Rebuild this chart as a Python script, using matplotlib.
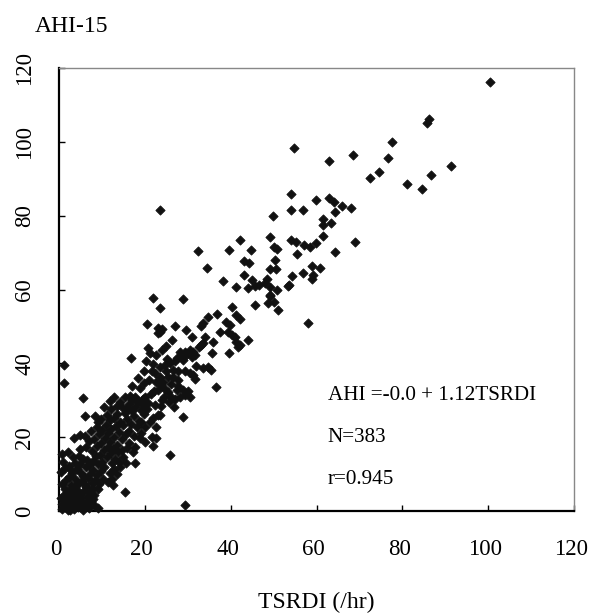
import matplotlib
matplotlib.use("Agg")
import matplotlib.pyplot as plt
import matplotlib.transforms as mtransforms

plt.rcParams['font.family'] = ['Liberation Serif', 'DejaVu Serif']

upper_x = [100.5, 86.3, 85.8, 77.6, 54.7, 76.7, 68.5, 62.9, 91.4, 74.5, 72.4, 86.7, 81.0, 84.5,
           54.0, 59.9, 62.9, 64.0, 66.0, 68.1, 64.2, 54.0, 56.8, 61.5, 61.5, 63.3, 61.6, 54.0,
           55.3, 57.2, 58.6, 59.9, 69.0, 23.6, 49.9, 49.1, 42.1, 32.3, 39.6, 44.8, 50.1, 50.9,
           55.4, 43.1, 44.3, 50.4, 34.4, 49.1, 50.5, 43.1, 54.3, 38.3, 44.9, 48.5, 41.3, 44.0,
           45.6, 46.7, 48.1, 49.2, 50.8, 53.4, 49.1, 21.9, 28.8, 64.2, 59.0, 60.7, 56.8, 59.3,
           59.0, 53.7, 58.1]
upper_y = [116.2, 106.2, 105.2, 100.0, 98.3, 95.6, 96.5, 94.8, 93.5, 91.7, 90.3, 90.9, 88.6, 87.3,
           86.0, 84.3, 84.8, 83.8, 82.6, 82.0, 81.1, 81.6, 81.6, 79.0, 77.5, 78.0, 74.6, 73.3,
           73.0, 72.1, 71.6, 72.7, 72.8, 81.6, 79.9, 74.2, 73.4, 70.3, 70.7, 70.7, 71.6, 71.0,
           69.7, 67.8, 67.1, 68.0, 65.9, 65.5, 65.5, 64.0, 63.7, 62.3, 62.6, 62.8, 60.6, 60.4,
           61.0, 61.2, 61.7, 60.6, 59.9, 61.0, 58.3, 57.7, 57.4, 70.2, 66.4, 65.9, 64.6, 64.0,
           62.8, 61.2, 51.0]

# middle band
mid_x = [23.5, 40.4, 45.6, 48.7, 50.2, 49.1, 51.0, 36.7, 34.7, 33.6, 33.2, 39.0, 39.8, 41.3,
         42.1, 27.0, 24.1, 23.5, 34.0, 33.6, 33.2, 39.4, 40.2, 40.9, 41.3, 42.1, 41.7, 44.0,
         35.7, 39.6, 23.9, 28.1, 29.3, 30.5, 31.3, 29.7, 28.5, 27.4, 27.0, 25.8, 24.7, 28.9,
         30.9, 31.6, 33.6, 34.7, 35.5, 23.5, 25.0, 26.6, 27.7, 29.3, 30.5, 31.3, 31.6, 25.4,
         26.6, 27.7, 24.3, 23.5, 36.5, 27.4, 28.9, 30.1, 26.2, 27.0, 28.1, 29.3, 30.5, 23.5,
         28.8]
mid_y = [54.9, 55.2, 55.8, 56.3, 56.7, 58.5, 54.5, 53.3, 52.5, 50.9, 50.1, 51.1, 50.4, 53.1,
         52.0, 50.2, 49.2, 48.6, 47.2, 45.4, 45.0, 48.6, 47.7, 47.2, 45.9, 45.0, 44.4, 46.2,
         42.7, 42.7, 43.6, 43.2, 43.2, 43.6, 43.2, 42.3, 41.8, 41.4, 40.5, 40.2, 39.6, 40.9,
         41.8, 42.3, 38.7, 39.1, 38.2, 39.1, 37.8, 38.2, 37.8, 37.8, 37.3, 36.9, 35.7, 36.4,
         36.2, 35.5, 35.0, 34.6, 33.5, 32.8, 32.8, 32.6, 31.0, 30.3, 30.8, 31.4, 30.8, 26.0,
         25.4]

# lower left, read where separable
low_x = [20.6, 23.1, 23.0, 20.8, 21.2, 22.7, 16.7, 1.2, 1.2, 19.8, 21.6, 22.3, 23.5, 15.3,
         16.5, 17.7, 18.1, 16.9, 12.9, 5.7, 20.0, 23.9, 23.1, 23.7, 6.0, 8.4, 9.1, 8.8,
         14.6, 15.3, 17.7, 18.4, 4.9, 17.7, 17.3, 15.7, 17.7, 12.6, 15.3, 9.1, 25.8, 29.3,
         22.3, 19.6, 19.2, 23.1, 21.9, 19.2, 20.0, 22.7, 21.6, 22.7, 18.8, 20.0, 21.9]
low_y = [50.6, 49.5, 48.3, 44.1, 42.9, 42.3, 41.4, 39.6, 34.8, 37.8, 38.0, 37.3, 36.4, 31.0,
         31.2, 30.8, 30.1, 30.1, 31.0, 30.5, 31.0, 30.1, 32.8, 34.1, 25.7, 25.7, 24.2, 22.8,
         28.3, 26.5, 28.3, 29.6, 20.6, 17.4, 16.1, 12.9, 12.9, 7.0, 5.2, 0.7, 15.2, 1.6,
         28.7, 28.7, 27.4, 26.0, 25.1, 24.2, 22.8, 22.8, 20.1, 19.7, 19.7, 18.8, 17.7]

# dense cluster near the origin (estimated, blobs overlap)
dense_x = [0.8, 1.5, 2.2, 2.9, 3.6, 4.1, 4.8, 5.5, 6.1, 6.9, 7.4, 1.1, 2.6, 5.2, 8.3, 3.3, 0.6,
           1.9, 4.4,
           0.9, 1.8, 2.5, 3.4, 4.2, 5.0, 5.8, 6.6, 7.3, 8.1, 9.0, 1.4, 3.0, 4.6, 6.3, 2.8, 7.9,
           2.1,
           0.7, 1.6, 2.8, 3.7, 4.4, 5.3, 6.0, 6.8, 7.6, 8.5, 9.4, 10.3, 11.5, 2.3, 5.7, 8.9,
           12.4, 4.0,
           0.5, 1.3, 3.1, 4.3, 5.1, 6.4, 7.2, 8.0, 9.7, 10.6, 11.9, 12.7, 13.4, 14.2, 6.9, 9.1,
           2.4,
           1.0, 3.8, 5.6, 7.9, 8.7, 10.0, 11.1, 12.3, 13.1, 14.0, 15.0, 4.7, 9.5, 12.0, 6.6,
           13.8,
           2.2, 5.0, 6.2, 7.7, 8.8, 10.5, 11.5, 12.6, 13.5, 14.6, 15.8, 16.4, 9.8, 11.9, 7.1,
           3.5, 6.0, 8.2, 9.3, 10.7, 11.4, 12.8, 13.9, 14.7, 15.5, 16.2, 17.4, 12.1, 10.1, 13.3,
           7.5,
           10.9, 11.8, 12.9, 14.2, 15.0, 15.9, 16.8, 17.5, 13.6, 11.3, 9.9, 18.6,
           12.2, 13.4, 14.1, 15.8, 16.3, 17.0, 10.6, 11.8, 19.5, 20.8, 21.5, 22.2,
           18.9, 19.9, 20.9, 22.5, 24.6, 25.3, 26.0, 18.3, 17.1, 21.8, 20.3, 25.7,
           0.4, 1.9, 3.9, 6.5, 7.9, 2.6, 2.7, 4.9, 3.2, 0.8, 18.2, 19.1, 19.7, 20.6, 21.2, 23.8,
           24.5, 26.9, 27.8, 25.2, 24.9, 26.3, 30.9, 31.9, 32.6, 29.7, 35.9, 37.5]
dense_y = [0.5, 1.2, 0.3, 1.8, 0.6, 2.4, 1.1, 0.2, 1.6, 0.8, 2.7, 2.9, 2.5, 3.0, 1.4, 3.2, 1.9,
           2.2, 1.0,
           4.1, 5.2, 3.8, 4.7, 5.8, 4.3, 5.5, 3.9, 5.1, 4.4, 5.9, 6.0, 6.3, 3.5, 6.4, 4.6, 6.1,
           4.5,
           7.3, 8.4, 7.1, 8.8, 7.5, 8.1, 7.0, 8.9, 7.7, 8.3, 7.2, 8.6, 7.9, 9.2, 9.5, 9.7,
           8.8, 6.7,
           10.5, 11.6, 10.2, 11.3, 10.4, 11.8, 10.1, 11.2, 10.8, 11.9, 10.3, 11.5, 10.0, 11.8,
           12.4, 12.6, 12.1,
           13.4, 13.1, 14.2, 13.6, 14.8, 13.2, 14.5, 13.0, 14.1, 13.4, 14.6, 15.0, 15.3, 15.8,
           13.9, 15.9,
           16.1, 16.7, 17.4, 16.3, 17.6, 16.5, 17.3, 16.8, 17.9, 16.4, 17.2, 18.3, 18.4, 18.8,
           18.9,
           19.7, 20.3, 19.5, 20.8, 19.8, 21.2, 20.1, 21.5, 19.6, 20.9, 21.7, 20.4, 22.3, 22.0,
           23.0, 21.6,
           23.4, 24.6, 25.3, 24.1, 23.2, 24.9, 23.6, 25.6, 26.2, 26.0, 24.9, 24.4,
           27.6, 28.5, 29.4, 27.9, 29.0, 27.2, 28.3, 29.7, 30.4, 29.2, 31.6, 32.5,
           33.3, 34.6, 35.4, 34.9, 33.1, 32.1, 34.3, 35.9, 33.9, 39.8, 40.7, 29.6,
           3.4, 0.9, 1.5, 2.3, 3.3, 0.4, 11.0, 12.7, 14.6, 15.4, 22.8, 21.1, 26.3, 27.5, 24.0,
           28.5, 31.0, 28.1, 33.9, 41.3, 44.8, 46.2, 47.0, 39.4, 44.3, 49.0, 45.8, 48.5]

tsrdi = upper_x + mid_x + low_x + dense_x
ahi = upper_y + mid_y + low_y + dense_y

fig = plt.figure(figsize=(5.89, 6.15), dpi=100)
ax = fig.add_axes([59 / 589, 1 - 511 / 615, 515 / 589, 443 / 615])

ax.scatter(tsrdi, ahi, s=22, marker='D', color='#111111', linewidths=0.6,
           edgecolors='#111111', clip_on=False, zorder=3)

ax.set_xlim(0, 120)
ax.set_ylim(0, 120)
ax.set_xticks(range(0, 121, 20))
ax.set_yticks(range(0, 121, 20))
ax.tick_params(direction='in', length=4, width=1, labelsize=16.5, top=False, right=False)
ax.tick_params(axis='x', pad=20)
ax.tick_params(axis='y', pad=17)
for lbl in ax.get_yticklabels():
    lbl.set_rotation(90)
    lbl.set_va('center')

# x labels sit a little left of their ticks in the original
shift = mtransforms.ScaledTranslation(-3 / 100, 0, fig.dpi_scale_trans)
for lbl in ax.get_xticklabels():
    lbl.set_transform(lbl.get_transform() + shift)

# left/bottom dark, top/right thin grey
ax.spines['left'].set_linewidth(1.6)
ax.spines['bottom'].set_linewidth(1.6)
for side in ('top', 'right'):
    ax.spines[side].set_color('#888888')
    ax.spines[side].set_linewidth(1.0)

fig.text(35 / 589, 1 - 27 / 615, "AHI-15", fontsize=17, va='center', ha='left')
fig.text(316 / 589, 1 - 602 / 615, "TSRDI (/hr)", fontsize=17, va='center', ha='center')

ax.text(62.6, 31.4, "AHI =-0.0 + 1.12TSRDI", fontsize=15.2, va='center', ha='left')
ax.text(62.6, 19.8, "N=383", fontsize=15.2, va='center', ha='left')
ax.text(62.6, 8.4, "r=0.945", fontsize=15.2, va='center', ha='left')

fig.savefig("out.png", dpi=100)
